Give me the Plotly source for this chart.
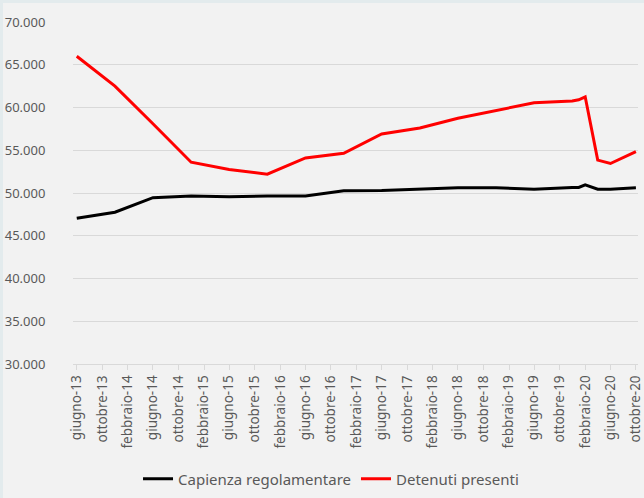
import plotly.graph_objects as go

# Data
dates = ["2013-06-01", "2013-12-01", "2014-06-01", "2014-12-01", "2015-06-01",
         "2015-12-01", "2016-06-01", "2016-12-01", "2017-06-01", "2017-12-01",
         "2018-06-01", "2018-12-01", "2019-06-01", "2019-12-01", "2020-01-01",
         "2020-02-01", "2020-04-01", "2020-06-01", "2020-10-01"]
capienza = [47050, 47750, 49450, 49650, 49550,
            49650, 49650, 50250, 50300, 50450,
            50600, 50600, 50450, 50650, 50650,
            50950, 50450, 50450, 50600]
detenuti = [66000, 62500, 58100, 53600, 52750,
            52200, 54100, 54650, 56900, 57600,
            58750, 59650, 60550, 60750, 60900,
            61250, 53850, 53450, 54850]

tick_dates = ["2013-06-01", "2013-10-01", "2014-02-01", "2014-06-01", "2014-10-01",
              "2015-02-01", "2015-06-01", "2015-10-01", "2016-02-01", "2016-06-01",
              "2016-10-01", "2017-02-01", "2017-06-01", "2017-10-01", "2018-02-01",
              "2018-06-01", "2018-10-01", "2019-02-01", "2019-06-01", "2019-10-01",
              "2020-02-01", "2020-06-01", "2020-10-01"]
tick_labels = ["giugno-13", "ottobre-13", "febbraio-14", "giugno-14", "ottobre-14",
               "febbraio-15", "giugno-15", "ottobre-15", "febbraio-16", "giugno-16",
               "ottobre-16", "febbraio-17", "giugno-17", "ottobre-17", "febbraio-18",
               "giugno-18", "ottobre-18", "febbraio-19", "giugno-19", "ottobre-19",
               "febbraio-20", "giugno-20", "ottobre-20"]

y_ticks = [30000, 35000, 40000, 45000, 50000, 55000, 60000, 65000, 70000]

W, H = 644, 498
ML, MR, MT, MB = 73, 6, 22, 134
PW, PH = W - ML - MR, H - MT - MB

fig = go.Figure()
fig.add_trace(go.Scatter(x=dates, y=capienza, mode="lines",
                         name="Capienza regolamentare",
                         line=dict(color="black", width=3)))
fig.add_trace(go.Scatter(x=dates, y=detenuti, mode="lines",
                         name="Detenuti presenti",
                         line=dict(color="#FF0000", width=3)))

# thin light border strips at the top and left edges of the picture
border = "#E3EBED"
fig.add_shape(type="rect", xref="paper", yref="paper", layer="below",
              x0=-ML / PW, x1=(-ML + 3) / PW, y0=-MB / PH, y1=1 + MT / PH,
              line=dict(width=0), fillcolor=border)
fig.add_shape(type="rect", xref="paper", yref="paper", layer="below",
              x0=-ML / PW, x1=1 + MR / PW, y0=1 + (MT - 3) / PH, y1=1 + MT / PH,
              line=dict(width=0), fillcolor=border)

font_family = "Noto Sans"
fig.update_layout(
    width=W, height=H,
    margin=dict(l=ML, r=MR, t=MT, b=MB, autoexpand=False),
    paper_bgcolor="#F2F2F2",
    plot_bgcolor="#F2F2F2",
    separators=",.",
    font=dict(family=font_family, color="#595959", size=12),
    showlegend=True,
    legend=dict(orientation="h", xref="container", yref="container",
                x=0.514, y=0.038, xanchor="center", yanchor="middle",
                font=dict(size=15, color="#595959"),
                bgcolor="rgba(0,0,0,0)", itemwidth=30),
    xaxis=dict(type="date", range=["2013-05-14", "2020-10-11"],
               tickvals=tick_dates, ticktext=tick_labels, tickangle=-90,
               showgrid=False, showline=True, linecolor="#D9D9D9", linewidth=1,
               ticks="outside", ticklen=5, tickcolor="#D9D9D9",
               tickfont=dict(size=13.5, color="#595959"), zeroline=False,
               automargin=False, ticklabeloverflow="allow"),
    yaxis=dict(range=[30000, 70000], tickvals=y_ticks, tickformat=",d",
               showgrid=True, gridcolor="#D9D9D9", gridwidth=1,
               ticks="outside", ticklen=24, tickcolor="rgba(0,0,0,0)",
               tickfont=dict(size=13, color="#595959"), zeroline=False,
               showline=False, automargin=False),
)

fig.write_html(
    "out.html",
    config={"displayModeBar": False},
    post_script="document.body.style.margin='0';document.body.style.background='#F2F2F2';",
)
